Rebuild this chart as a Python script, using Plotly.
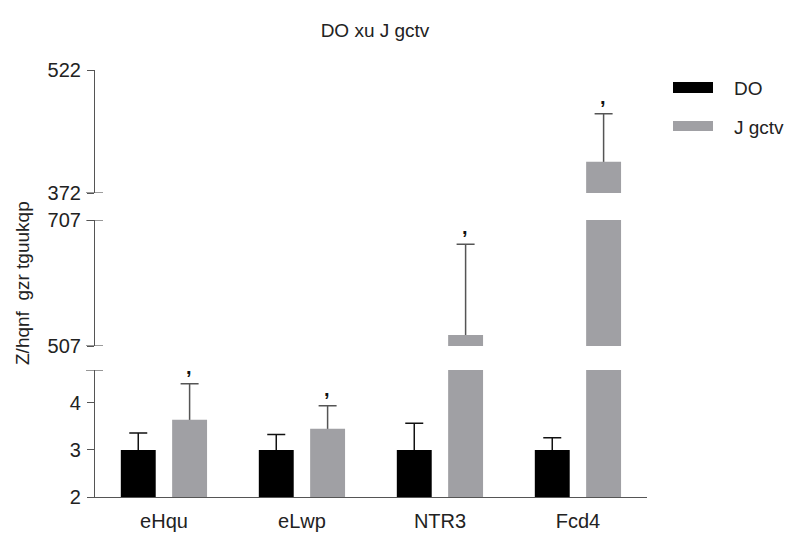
import plotly.graph_objects as go

categories = ["eHqu", "eLwp", "NTR3", "Fcd4"]
bm_mean = [1.0, 1.0, 1.0, 1.0]
bm_err = [0.36, 0.33, 0.57, 0.26]
heart_mean = [1.64, 1.45, 3.675, 188.2]
heart_err = [0.77, 0.49, 1.44, 58.5]
sig_marks = [",", ",", ",", ","]
sig_axis = ["y", "y", "y2", "y3"]

seg_ranges = {"y": [0, 2.7], "y2": [3.5, 5.5], "y3": [150, 300]}
seg_domains = {"y": [0, 0.2974], "y2": [0.3536, 0.6487], "y3": [0.7119, 1.0]}
seg_tickvals = {"y": [0, 1, 2], "y2": [3.5, 5.5], "y3": [150, 300]}
seg_ticktext = {"y": ["2", "3", "4"], "y2": ["507", "707"], "y3": ["372", "522"]}
series_names = ["DO", "J gctv"]
series_colors = ["#000000", "#a0a0a4"]

FONT = "Liberation Sans, Arial, sans-serif"
OFF = 8  # page body margin
W, H = 794, 536
L, R, T, B = 95 - OFF, W - (647 - OFF), 70 - OFF, H - (497 - OFF)
PW, PH = W - L - R, H - T - B

bw = 0.253
offsets = [-0.313, 0.059]
AX_COL = "#555555"

fig = go.Figure()
series = [(bm_mean, bm_err), (heart_mean, heart_err)]
for ax in ["y", "y2", "y3"]:
    # error bars first (drawn underneath the bars, so only the upper whisker shows)
    for i, (means, errs) in enumerate(series):
        fig.add_trace(go.Bar(
            x=categories, y=means, yaxis=ax, xaxis="x",
            width=bw, offset=offsets[i],
            marker=dict(color="rgba(0,0,0,0)", line=dict(width=0)),
            error_y=dict(type="data", symmetric=False, array=errs,
                         arrayminus=[m * 0.5 for m in means],
                         color="#111111" if i == 0 else "#555555",
                         thickness=1.5, width=9),
            showlegend=False, hoverinfo="skip",
        ))
    for i, (means, errs) in enumerate(series):
        fig.add_trace(go.Bar(
            x=categories, y=means, yaxis=ax, xaxis="x",
            width=bw, offset=offsets[i],
            marker=dict(color=series_colors[i], line=dict(width=0)),
            name=series_names[i], showlegend=False,
        ))

axis_common = dict(showline=True, linecolor=AX_COL, linewidth=1.2,
                   ticks="outside", ticklen=7, tickcolor=AX_COL, tickwidth=1.2,
                   showgrid=False, zeroline=False, ticklabelstandoff=2,
                   tickfont=dict(family=FONT, size=20, color="#222222"))

layout = dict(
    width=W, height=H,
    margin=dict(l=L, r=R, t=T, b=B),
    paper_bgcolor="white", plot_bgcolor="white",
    barmode="overlay",
    showlegend=False,
    xaxis=dict(type="category", range=[-0.5, 3.5], showline=True, linecolor=AX_COL,
               linewidth=1.2, ticks="", showgrid=False, zeroline=False, anchor="y",
               ticklabelstandoff=6,
               tickfont=dict(family=FONT, size=20, color="#222222")),
    title=dict(text="DO xu J gctv", x=(375 - OFF) / W, xanchor="center",
               y=1 - (30 - OFF) / H, yanchor="middle",
               font=dict(family=FONT, size=19, color="#222222")),
)
for ax in ["y", "y2", "y3"]:
    key = "yaxis" if ax == "y" else "yaxis" + ax[1:]
    layout[key] = dict(axis_common, range=seg_ranges[ax], domain=seg_domains[ax],
                       tickmode="array", tickvals=seg_tickvals[ax],
                       ticktext=seg_ticktext[ax], anchor="x")
fig.update_layout(**layout)

# break caps at the ends of each axis segment
shapes = []
for ax, val in [("y", 2.7), ("y2", 3.5), ("y2", 5.5), ("y3", 150)]:
    shapes.append(dict(type="line", xref="paper", yref=ax, x0=-9 / PW, x1=8 / PW,
                       y0=val, y1=val, line=dict(color=AX_COL, width=1.2)))


def px(xp):
    return (xp - OFF - L) / PW


def py(yp):
    return (H - B - (yp - OFF)) / PH


# custom legend
leg_rows = [(82, 93, 88), (121, 131, 127)]
annots = []
for i, (y0, y1, yc) in enumerate(leg_rows):
    shapes.append(dict(type="rect", xref="paper", yref="paper",
                       x0=px(673), x1=px(713), y0=py(y1), y1=py(y0),
                       fillcolor=series_colors[i], line=dict(width=0)))
    annots.append(dict(xref="paper", yref="paper", x=px(732), y=py(yc),
                       text=series_names[i], showarrow=False, xanchor="left",
                       yanchor="middle", font=dict(family=FONT, size=19, color="#222222")))

# significance marks
for c, m, e, s, ax in zip(categories, heart_mean, heart_err, sig_marks, sig_axis):
    annots.append(dict(x=c, y=m + e, xref="x", yref=ax, text="<b>" + s + "</b>",
                       showarrow=False, xshift=24.6, yshift=4, yanchor="bottom",
                       font=dict(family=FONT, size=20, color="#111111")))

# y axis title
annots.append(dict(xref="paper", yref="paper", x=px(22), y=py(283),
                   text="Z/hqnf\u00a0 gzr tguukqp", textangle=-90, showarrow=False,
                   xanchor="center", yanchor="middle",
                   font=dict(family=FONT, size=19, color="#222222")))

fig.update_layout(shapes=shapes, annotations=annots)
fig.write_html("out.html")
